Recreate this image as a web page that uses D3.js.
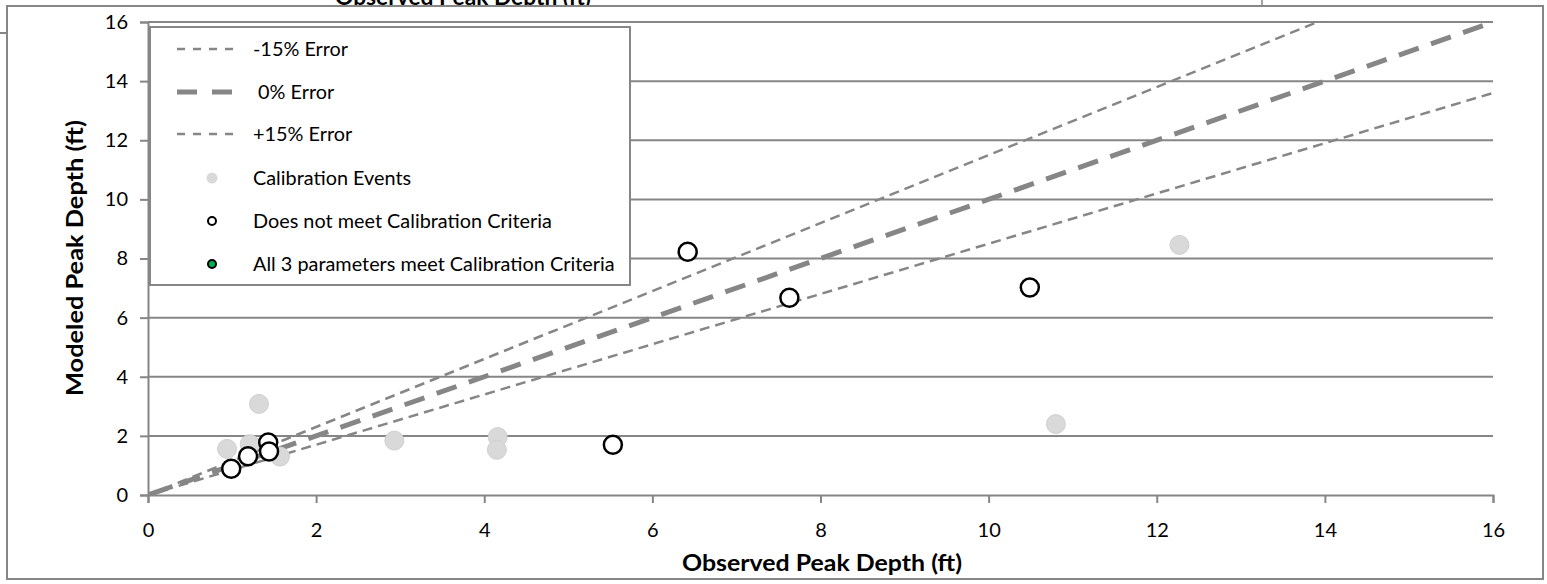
<!DOCTYPE html>
<html>
<head>
<meta charset="utf-8">
<script src="https://cdn.jsdelivr.net/npm/d3@7"></script>
<style>
  html, body { margin: 0; padding: 0; background: #fff; }
  svg { display: block; }
  text { font-family: Lato, "Open Sans", sans-serif; }
</style>
</head>
<body>
<svg id="chart" width="1547" height="584"></svg>
<script>
// ---- data ----
const xTicks = [0, 2, 4, 6, 8, 10, 12, 14, 16];
const yTicks = [0, 2, 4, 6, 8, 10, 12, 14, 16];

// calibration events (light grey filled)
const calX = [1.32, 0.94, 1.21, 1.57, 2.93, 4.16, 4.15, 10.80, 12.27];
const calY = [3.08, 1.56, 1.72, 1.30, 1.84, 1.96, 1.53, 2.40, 8.46];

// events not meeting calibration criteria (open black circles)
const failX = [0.99, 1.19, 1.43, 1.44, 5.53, 6.42, 7.63, 10.49];
const failY = [0.89, 1.31, 1.78, 1.47, 1.70, 8.23, 6.67, 7.02];

// events meeting all 3 parameters (none in view)
const passX = [];
const passY = [];

// reference error lines
const lineX = [0, 16];
const minus15Y = [0, 18.4];   // -15% error
const zeroY = [0, 16];        //  0% error
const plus15Y = [0, 13.6];    // +15% error

const legendLabels = ["-15% Error", " 0% Error", "+15% Error", "Calibration Events",
  "Does not meet Calibration Criteria", "All 3 parameters meet Calibration Criteria"];

// ---- drawing ----
const svg = d3.select("#chart");
const grey = "#868686";
const x = d3.scaleLinear().domain([0, 16]).range([148, 1493]);
const y = d3.scaleLinear().domain([0, 16]).range([495, 22]);

// clipped title of chart above
svg.append("text").attr("x", 463).attr("y", 5).attr("text-anchor", "middle")
  .attr("font-size", 22).attr("font-weight", "bold").attr("fill", "#000")
  .attr("textLength", 256).attr("lengthAdjust", "spacingAndGlyphs")
  .text("Observed Peak Depth (ft)");
svg.append("rect").attr("x", 0).attr("y", 6).attr("width", 1547).attr("height", 10).attr("fill", "#fff");

// outer frame
svg.append("rect").attr("x", 7).attr("y", 6).attr("width", 1536).attr("height", 573)
  .attr("fill", "none").attr("stroke", grey).attr("stroke-width", 2);
svg.append("line").attr("x1", 0).attr("x2", 7).attr("y1", 33).attr("y2", 33)
  .attr("stroke", grey).attr("stroke-width", 2);
svg.append("line").attr("x1", 1262).attr("x2", 1262).attr("y1", 0).attr("y2", 6)
  .attr("stroke", grey).attr("stroke-width", 1.5);

// horizontal gridlines
svg.append("g").selectAll("line").data(yTicks.filter(d => d > 0)).join("line")
  .attr("x1", x(0)).attr("x2", x(16)).attr("y1", d => y(d)).attr("y2", d => y(d))
  .attr("stroke", grey).attr("stroke-width", 2);

// axes
const xAxis = svg.append("g").attr("transform", `translate(0,${y(0)})`)
  .call(d3.axisBottom(x).tickValues(xTicks).tickSize(8).tickPadding(20).tickFormat(d3.format("d")));
const yAxis = svg.append("g").attr("transform", `translate(${x(0)},0)`)
  .call(d3.axisLeft(y).tickValues(yTicks).tickSize(8).tickPadding(12).tickFormat(d3.format("d")));
[xAxis, yAxis].forEach(g => {
  g.select(".domain").attr("stroke", grey).attr("stroke-width", 2);
  g.selectAll(".tick line").attr("stroke", grey).attr("stroke-width", 2);
  g.selectAll(".tick text").attr("font-size", 20).attr("fill", "#000")
    .style("font-family", "Lato, sans-serif");
});

// axis titles
svg.append("text").attr("x", 822).attr("y", 571).attr("text-anchor", "middle")
  .attr("font-size", 22).attr("font-weight", "bold")
  .attr("textLength", 280).attr("lengthAdjust", "spacingAndGlyphs")
  .text("Observed Peak Depth (ft)");
svg.append("text").attr("transform", "translate(83,258) rotate(-90)").attr("text-anchor", "middle")
  .attr("font-size", 22).attr("font-weight", "bold")
  .attr("textLength", 276).attr("lengthAdjust", "spacingAndGlyphs")
  .text("Modeled Peak Depth (ft)");

// clip
svg.append("clipPath").attr("id", "plotclip").append("rect")
  .attr("x", x(0)).attr("y", y(16)).attr("width", x(16) - x(0)).attr("height", y(0) - y(16));
const plot = svg.append("g").attr("clip-path", "url(#plotclip)");

const lineGen = d3.line().x(d => x(d[0])).y(d => y(d[1]));
const lines = [
  { ys: minus15Y, w: 2.5, dash: "10,6" },
  { ys: zeroY, w: 5, dash: "21,13" },
  { ys: plus15Y, w: 2.5, dash: "10,6" }
];

// calibration points
svg.append("g").selectAll("circle").data(calX.map((v, i) => [v, calY[i]])).join("circle")
  .attr("cx", d => x(d[0])).attr("cy", d => y(d[1])).attr("r", 9.5)
  .attr("fill", "#d9d9d9").attr("stroke", "#d0d0d0").attr("stroke-width", 1);

lines.forEach(l => {
  plot.append("path").datum(lineX.map((v, i) => [v, l.ys[i]])).attr("d", lineGen)
    .attr("fill", "none").attr("stroke", grey).attr("stroke-width", l.w)
    .attr("stroke-dasharray", l.dash);
});

svg.append("g").selectAll("circle").data(failX.map((v, i) => [v, failY[i]])).join("circle")
  .attr("cx", d => x(d[0])).attr("cy", d => y(d[1])).attr("r", 9)
  .attr("fill", "#fff").attr("stroke", "#000").attr("stroke-width", 2.5);

svg.append("g").selectAll("circle").data(passX.map((v, i) => [v, passY[i]])).join("circle")
  .attr("cx", d => x(d[0])).attr("cy", d => y(d[1])).attr("r", 9)
  .attr("fill", "#00b050").attr("stroke", "#000").attr("stroke-width", 2.5);

// legend
const lg = svg.append("g");
lg.append("rect").attr("x", 150).attr("y", 27).attr("width", 480).attr("height", 258)
  .attr("fill", "#fff").attr("stroke", grey).attr("stroke-width", 2);
const rowY = [49, 92, 134, 178, 221, 264];
legendLabels.forEach((t, i) => {
  lg.append("text").attr("transform", `translate(253,${rowY[i]}) scale(1.045,1)`)
    .attr("dy", "0.36em").attr("font-size", 19).attr("fill", "#000")
    .attr("xml:space", "preserve").style("white-space", "pre").text(t);
});
[[0, 2.5, "8,8"], [1, 5, "20,15"], [2, 2.5, "8,8"]].forEach(([i, w, dash]) => {
  lg.append("line").attr("x1", 177).attr("x2", 241).attr("y1", rowY[i]).attr("y2", rowY[i])
    .attr("stroke", grey).attr("stroke-width", w).attr("stroke-dasharray", dash);
});
lg.append("circle").attr("cx", 212).attr("cy", rowY[3]).attr("r", 5.5).attr("fill", "#d9d9d9");
lg.append("circle").attr("cx", 212).attr("cy", rowY[4]).attr("r", 4).attr("fill", "#fff")
  .attr("stroke", "#000").attr("stroke-width", 2);
lg.append("circle").attr("cx", 212).attr("cy", rowY[5]).attr("r", 4).attr("fill", "#00b050")
  .attr("stroke", "#000").attr("stroke-width", 2);
</script>
</body>
</html>
